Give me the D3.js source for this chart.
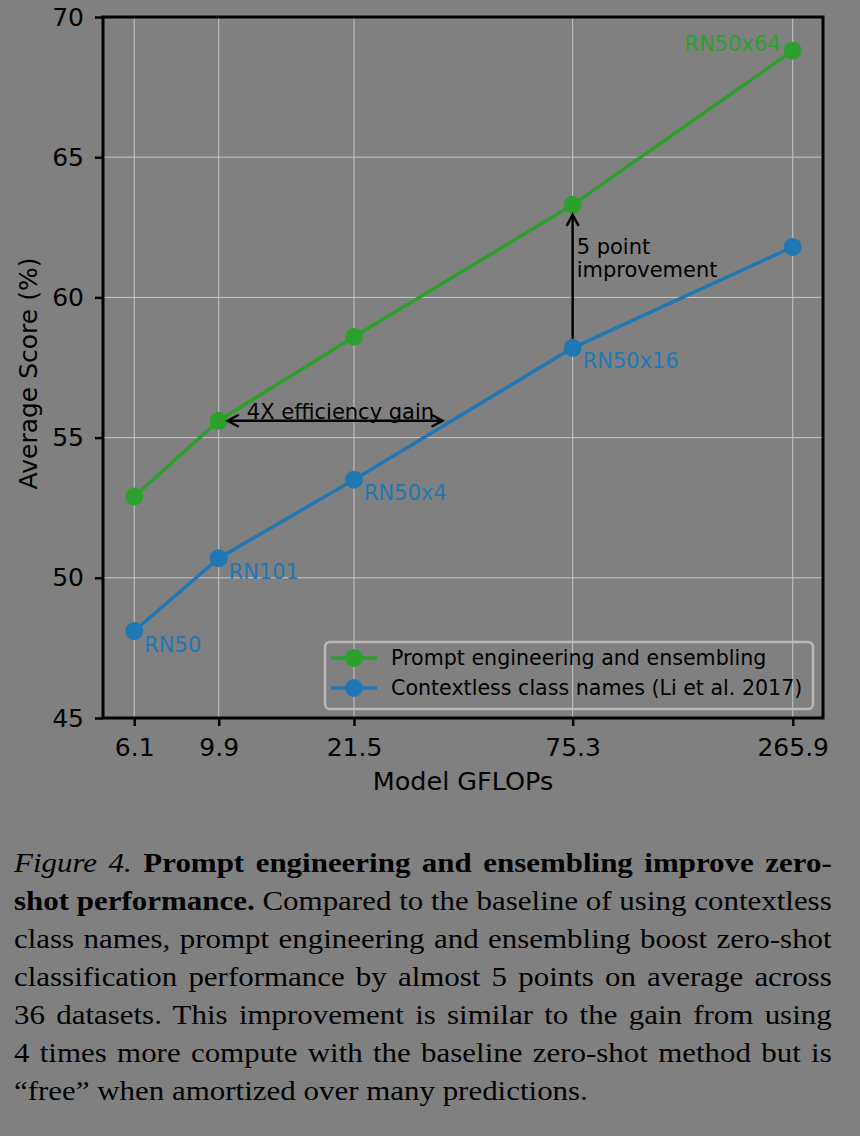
<html>
<head>
<meta charset="utf-8">
<style>
    body { margin: 0; background: #808080; width: 860px; height: 1136px; overflow: hidden; }
    svg { position: absolute; left: 0; top: 0; }
    .caption {
        position: absolute; left: 14px; top: 844px; width: 740px;
        transform: scaleX(1.105); transform-origin: 0 0;
        font-family: "Liberation Serif", "Times New Roman", serif;
        font-size: 28px; line-height: 38px; color: #000;
    }
    .caption div { text-align: justify; text-align-last: justify; }
    .caption div.last { text-align-last: left; }
</style>
</head>
<body>
<script src="https://d3js.org/d3.v7.min.js"></script>
<script>
    // data
    const models = ["RN50", "RN101", "RN50x4", "RN50x16", "RN50x64"];
    const gflops = [6.1, 9.9, 21.5, 75.3, 265.9];
    const promptScores = [52.9, 55.6, 58.6, 63.3, 68.8];
    const contextlessScores = [48.1, 50.7, 53.5, 58.2, 61.8];
    const yTicks = [45, 50, 55, 60, 65, 70];
    const xDomain = [5.1, 316.3];
    const yDomain = [45, 70];
    const seriesNames = ["Prompt engineering and ensembling", "Contextless class names (Li et al. 2017)"];
    const seriesColors = ["#2ca02c", "#1f77b4"];

    // annotations (data coords)
    const effFrom = 9.9, effTo = 37.6, effScore = 55.6, effTextX = 19.9;
    const impGflops = 75.3, impFrom = 58.2, impTo = 63.3;

    const captionLines = [
        ["<i>Figure 4.</i> <b>Prompt engineering and ensembling improve zero-</b>"],
        ["<b>shot performance.</b> Compared to the baseline of using contextless"],
        ["class names, prompt engineering and ensembling boost zero-shot"],
        ["classification performance by almost 5 points on average across"],
        ["36 datasets. This improvement is similar to the gain from using"],
        ["4 times more compute with the baseline zero-shot method but is"],
        ["“free” when amortized over many predictions."]
    ];

    const plotL = 103, plotR = 823, plotT = 17, plotB = 718;
    const font = "DejaVu Sans, sans-serif";

    const svg = d3.select("body").append("svg")
        .attr("width", 860).attr("height", 830);

    const x = d3.scaleLog().domain(xDomain).range([plotL, plotR]);
    const y = d3.scaleLinear().domain(yDomain).range([plotB, plotT]);

    // grid
    const grid = svg.append("g").attr("stroke", "#c6c6c6").attr("stroke-width", 1);
    grid.selectAll("line.v").data(gflops).join("line")
        .attr("class", "v")
        .attr("x1", d => x(d)).attr("x2", d => x(d))
        .attr("y1", plotT).attr("y2", plotB);
    grid.selectAll("line.h").data(yTicks).join("line")
        .attr("class", "h")
        .attr("x1", plotL).attr("x2", plotR)
        .attr("y1", d => y(d)).attr("y2", d => y(d));

    // axes
    const xAxis = svg.append("g")
        .attr("transform", `translate(0,${plotB})`)
        .call(d3.axisBottom(x).tickValues(gflops).tickFormat(d3.format(".1f")).tickSize(8).tickPadding(12));
    const yAxis = svg.append("g")
        .attr("transform", `translate(${plotL},0)`)
        .call(d3.axisLeft(y).tickValues(yTicks).tickFormat(d3.format("d")).tickSize(8).tickPadding(11));
    [xAxis, yAxis].forEach(a => {
        a.select(".domain").remove();
        a.selectAll(".tick line").attr("stroke", "#000").attr("stroke-width", 2.5);
        a.selectAll(".tick text").attr("fill", "#000").style("font-family", font).style("font-size", "25px");
    });

    svg.append("text")
        .attr("x", (plotL + plotR) / 2).attr("y", 790)
        .attr("text-anchor", "middle")
        .style("font-family", font).style("font-size", "25.5px")
        .text("Model GFLOPs");
    svg.append("text")
        .attr("transform", `translate(37,${(plotT + plotB) / 2 + 6}) rotate(-90)`)
        .attr("text-anchor", "middle")
        .style("font-family", font).style("font-size", "25px")
        .text("Average Score (%)");

    // series
    const series = [promptScores, contextlessScores];
    const line = d3.line().x((d, i) => x(gflops[i])).y(d => y(d));
    series.forEach((s, k) => {
        svg.append("path")
            .attr("d", line(s))
            .attr("fill", "none")
            .attr("stroke", seriesColors[k])
            .attr("stroke-width", 3.5);
        svg.append("g").selectAll("circle").data(s).join("circle")
            .attr("cx", (d, i) => x(gflops[i]))
            .attr("cy", d => y(d))
            .attr("r", 9)
            .attr("fill", seriesColors[k]);
    });

    // model labels
    const labels = svg.append("g").style("font-family", font).style("font-size", "21px");
    models.forEach((m, i) => {
        const last = i === models.length - 1;
        labels.append("text")
            .attr("x", x(gflops[i]) + (last ? -12 : 10))
            .attr("y", last ? y(promptScores[i]) : y(contextlessScores[i]) + 20.5)
            .attr("text-anchor", last ? "end" : "start")
            .attr("fill", last ? seriesColors[0] : seriesColors[1])
            .text(m);
    });

    // arrows
    function head(px, py, dx, dy) {
        const len = 11, w = 6;
        const bx = px - dx * len, by = py - dy * len;
        return `M${bx - dy * w},${by + dx * w}L${px},${py}L${bx + dy * w},${by - dx * w}`;
    }
    const ann = svg.append("g").attr("stroke", "#000").attr("stroke-width", 2.5).attr("fill", "none");
    const ex1 = x(effFrom) + 9, ex2 = x(effTo) - 9, ey = y(effScore);
    ann.append("line").attr("x1", ex1).attr("x2", ex2).attr("y1", ey).attr("y2", ey);
    ann.append("path").attr("d", head(ex1, ey, -1, 0));
    ann.append("path").attr("d", head(ex2, ey, 1, 0));
    const ix = x(impGflops), iy1 = y(impFrom) - 9, iy2 = y(impTo) + 10;
    ann.append("line").attr("x1", ix).attr("x2", ix).attr("y1", iy1).attr("y2", iy2);
    ann.append("path").attr("d", head(ix, iy2, 0, -1));

    svg.append("text")
        .attr("x", x(effTextX)).attr("y", ey - 2)
        .attr("text-anchor", "middle")
        .style("font-family", font).style("font-size", "21px")
        .text("4X efficiency gain");
    const impText = svg.append("text")
        .attr("x", ix + 4).attr("y", 254)
        .style("font-family", font).style("font-size", "21px");
    impText.append("tspan").attr("x", ix + 4).text("5 point");
    impText.append("tspan").attr("x", ix + 4).attr("dy", 23).text("improvement");

    // legend
    const lg = svg.append("g");
    lg.append("rect")
        .attr("x", 325).attr("y", 642).attr("width", 488).attr("height", 67).attr("rx", 5)
        .attr("fill", "none").attr("stroke", "#b9b9b9").attr("stroke-width", 2.5);
    seriesNames.forEach((n, k) => {
        const ly = 658 + k * 30;
        lg.append("line").attr("x1", 331).attr("x2", 377).attr("y1", ly).attr("y2", ly)
            .attr("stroke", seriesColors[k]).attr("stroke-width", 3.5);
        lg.append("circle").attr("cx", 354).attr("cy", ly).attr("r", 9).attr("fill", seriesColors[k]);
        lg.append("text").attr("x", 391).attr("y", ly).attr("dy", "0.36em")
            .style("font-family", font).style("font-size", "20.6px").text(n);
    });

    // spines
    svg.append("rect")
        .attr("x", plotL).attr("y", plotT).attr("width", plotR - plotL).attr("height", plotB - plotT)
        .attr("fill", "none").attr("stroke", "#000").attr("stroke-width", 3);

    // caption
    d3.select("body").append("div").attr("class", "caption")
        .selectAll("div").data(captionLines).join("div")
        .classed("last", (d, i) => i === captionLines.length - 1)
        .html(d => d[0]);
</script>
</body>
</html>
